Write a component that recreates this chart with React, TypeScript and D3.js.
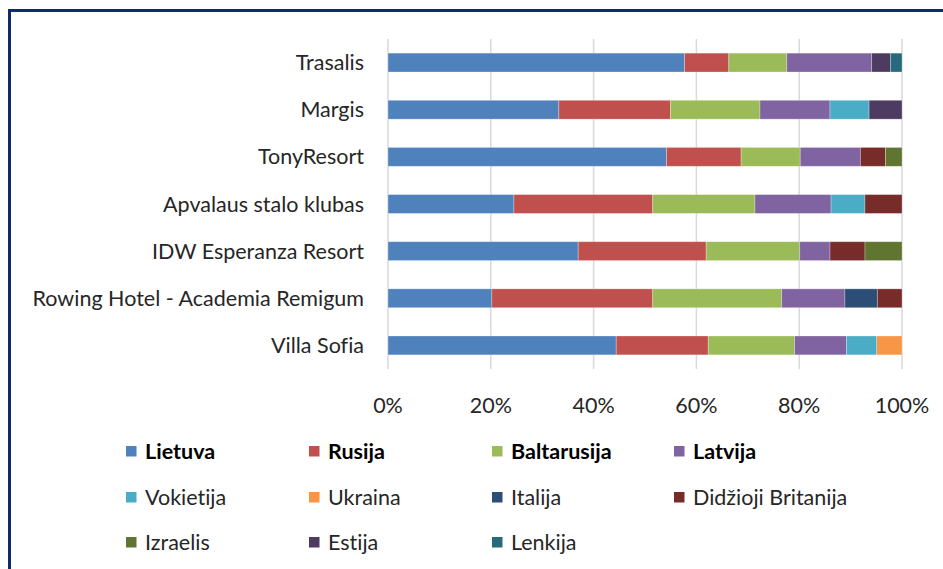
import React from "react";
import * as d3 from "d3";

const hotels = [
  "Trasalis",
  "Margis",
  "TonyResort",
  "Apvalaus stalo klubas",
  "IDW Esperanza Resort",
  "Rowing Hotel - Academia Remigum",
  "Villa Sofia",
];

const countries = [
  "Lietuva",
  "Rusija",
  "Baltarusija",
  "Latvija",
  "Vokietija",
  "Ukraina",
  "Italija",
  "Didžioji Britanija",
  "Izraelis",
  "Estija",
  "Lenkija",
];

const lietuva = [57.7, 33.2, 54.2, 24.5, 37.0, 20.2, 44.4];
const rusija = [8.6, 21.7, 14.5, 27.0, 24.9, 31.3, 17.9];
const baltarusija = [11.3, 17.4, 11.5, 19.9, 18.2, 25.1, 16.8];
const latvija = [16.5, 13.6, 11.7, 14.8, 5.9, 12.3, 10.1];
const vokietija = [0, 7.6, 0, 6.6, 0, 0, 5.9];
const ukraina = [0, 0, 0, 0, 0, 0, 4.9];
const italija = [0, 0, 0, 0, 0, 6.3, 0];
const britanija = [0, 0, 4.9, 7.2, 6.8, 4.8, 0];
const izraelis = [0, 0, 3.2, 0, 7.2, 0, 0];
const estija = [3.7, 6.4, 0, 0, 0, 0, 0];
const lenkija = [2.2, 0, 0, 0, 0, 0, 0];

const seriesValues = [
  lietuva, rusija, baltarusija, latvija, vokietija, ukraina,
  italija, britanija, izraelis, estija, lenkija,
];

const tickValues = [0, 0.2, 0.4, 0.6, 0.8, 1];

const colors = [
  "#4F81BD", "#C0504D", "#9BBB59", "#8064A2", "#4BACC6", "#F79646",
  "#2C4D75", "#772C2A", "#5F7530", "#4D3B62", "#276A7C",
];

const boldLegend = new Set(["Lietuva", "Rusija", "Baltarusija", "Latvija"]);

export default function App() {
  const W = 943, H = 569;
  const rows = hotels.map((h, i) => {
    const r: any = { hotel: h };
    countries.forEach((c, j) => (r[c] = seriesValues[j][i]));
    return r;
  });
  const stacked = d3.stack<any>().keys(countries).offset(d3.stackOffsetExpand)(rows);

  const x = d3.scaleLinear().domain([0, 1]).range([388, 902]);
  const y = d3.scaleBand().domain(hotels).range([39, 369]).paddingInner(0.6).paddingOuter(0.3);

  const font = "Lato, 'Open Sans', sans-serif";
  const fs = 21.5;
  const legendCols = [126, 309, 492, 674];
  const legendRows = [451, 497, 542];

  return (
    <svg
      width={W}
      height={H}
      style={{ position: "fixed", left: 0, top: 0, background: "#fff", fontVariantLigatures: "none" }}
      fontFamily={font}
    >
      <rect x={0} y={0} width={W} height={H} fill="#fff" />
      <rect x={9.5} y={10.5} width={W + 20} height={H + 20} fill="none" stroke="#0F2A6B" strokeWidth={3} />
      {tickValues.map((t) => (
        <line key={t} x1={x(t)} x2={x(t)} y1={39} y2={369} stroke="#D9D9D9" strokeWidth={1.5} />
      ))}
      {stacked.map((s, si) =>
        s.map((d, i) =>
          d[1] - d[0] > 0 ? (
            <rect
              key={si + "-" + i}
              x={x(d[0])}
              y={y(hotels[i])!}
              width={x(d[1]) - x(d[0])}
              height={y.bandwidth()}
              fill={colors[si]}
              stroke="#ffffff"
              strokeOpacity={0.35}
              strokeWidth={0.8}
            />
          ) : null
        )
      )}
      {hotels.map((h) => (
        <text key={h} x={364} y={y(h)! + y.bandwidth() / 2} dy="0.35em" textAnchor="end" fontSize={fs} fill="#262626">
          {h}
        </text>
      ))}
      {tickValues.map((t) => (
        <text key={"t" + t} x={x(t)} y={405} dy="0.35em" textAnchor="middle" fontSize={fs} fill="#262626">
          {d3.format(".0%")(t)}
        </text>
      ))}
      {countries.map((c, i) => {
        const cx = legendCols[i % 4];
        const cy = legendRows[Math.floor(i / 4)];
        return (
          <g key={c}>
            <rect x={cx} y={cy - 5} width={10.5} height={10.5} fill={colors[i]} />
            <text x={cx + 19} y={cy} dy="0.35em" fontSize={fs} fontWeight={boldLegend.has(c) ? 700 : 400} fill={boldLegend.has(c) ? "#000" : "#262626"}>
              {c}
            </text>
          </g>
        );
      })}
    </svg>
  );
}
